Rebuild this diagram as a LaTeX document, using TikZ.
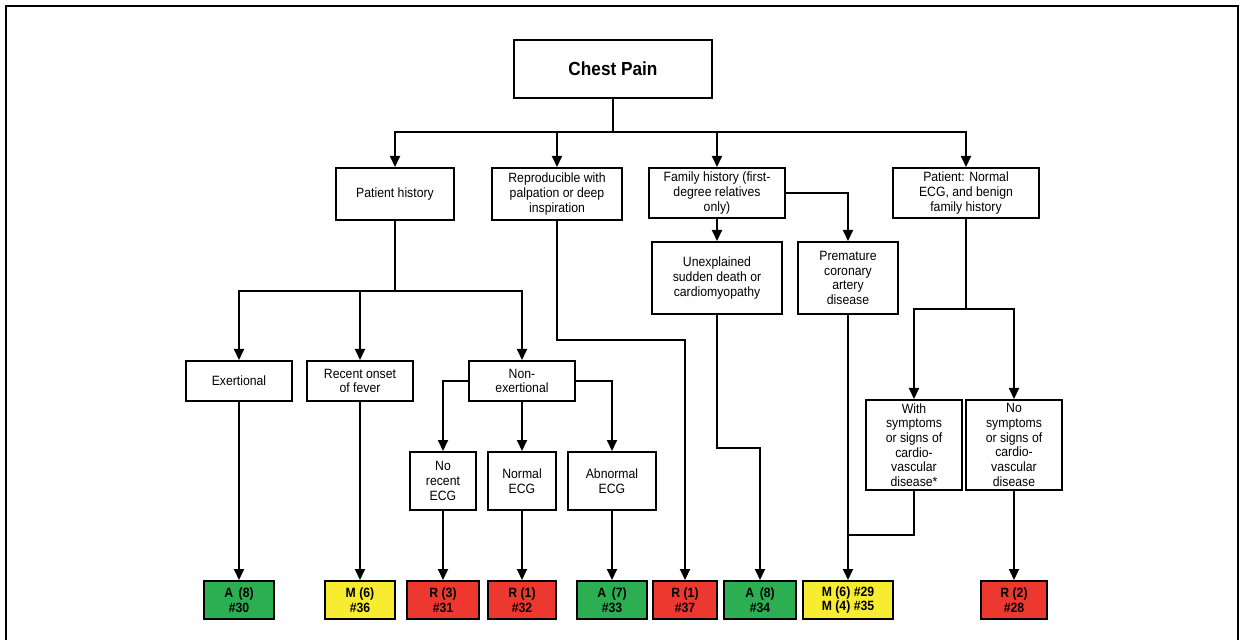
\documentclass[tikz,border=0pt]{standalone}
\usepackage{fontspec}
\setmainfont[FakeStretch=0.91]{Liberation Sans}
\usetikzlibrary{arrows.meta}
\definecolor{resgreen}{RGB}{44,174,82}
\definecolor{resyellow}{RGB}{247,236,48}
\definecolor{resred}{RGB}{236,56,46}
\begin{document}
\begin{tikzpicture}[x=1bp,y=-1bp,
box/.style={draw, line width=2bp, fill=white, inner sep=0pt, align=center, font=\fontsize{13.5}{14.7}\selectfont},
res/.style={box, font=\fontsize{13.5}{14.7}\selectfont\bfseries, minimum height=38bp},
link/.style={line width=2bp},
arr/.style={link, -{Triangle[length=11bp,width=10bp]}}]
\useasboundingbox (0,0) rectangle (1244,640);
\draw[line width=2bp] (6,640) -- (6,6) -- (1238,6) -- (1238,640);

\node (chest) at (613,69) [box, minimum width=198bp, minimum height=58bp, font=\fontsize{19}{22}\selectfont\bfseries] {Chest Pain};
\node (hist) at (395,194) [box, minimum width=118bp, minimum height=52bp] {Patient history};
\node (repro) at (557,194) [box, minimum width=130bp, minimum height=52bp] {Reproducible with\\palpation or deep\\inspiration};
\node (family) at (717,193) [box, minimum width=136bp, minimum height=50bp] {Family history (first-\\degree relatives\\only)};
\node (normal) at (966,193) [box, minimum width=146bp, minimum height=50bp] {Patient: Normal\\ECG, and benign\\family history};
\node (unexpl) at (717,278) [box, minimum width=130bp, minimum height=72bp] {Unexplained\\sudden death or\\cardiomyopathy};
\node (prem) at (848,278) [box, minimum width=100bp, minimum height=72bp] {Premature\\coronary\\artery\\disease};
\node (exer) at (239,381) [box, minimum width=106bp, minimum height=40bp] {Exertional};
\node (fever) at (360,381) [box, minimum width=106bp, minimum height=40bp] {Recent onset\\of fever};
\node (nonex) at (522,381) [box, minimum width=106bp, minimum height=40bp] {Non-\\exertional};
\node (norec) at (443,481) [box, minimum width=66bp, minimum height=58bp] {No\\recent\\ECG};
\node (normecg) at (522,481) [box, minimum width=68bp, minimum height=58bp] {Normal\\ECG};
\node (abnecg) at (612,481) [box, minimum width=88bp, minimum height=58bp] {Abnormal\\ECG};
\node (withsym) at (914,445) [box, minimum width=96bp, minimum height=90bp] {With\\symptoms\\or signs of\\cardio-\\vascular\\disease*};
\node (nosym) at (1014,445) [box, minimum width=96bp, minimum height=90bp] {No\\symptoms\\or signs of\\cardio-\\vascular\\disease};

\node (r30) at (239,600) [res, fill=resgreen, minimum width=70bp] {A\ \,(8)\\\#30};
\node (r36) at (360,600) [res, fill=resyellow, minimum width=70bp] {M (6)\\\#36};
\node (r31) at (443,600) [res, fill=resred, minimum width=72bp] {R (3)\\\#31};
\node (r32) at (522,600) [res, fill=resred, minimum width=68bp] {R (1)\\\#32};
\node (r33) at (612,600) [res, fill=resgreen, minimum width=70bp] {A\ \,(7)\\\#33};
\node (r37) at (685,600) [res, fill=resred, minimum width=64bp] {R (1)\\\#37};
\node (r34) at (760,600) [res, fill=resgreen, minimum width=72bp] {A\ \,(8)\\\#34};
\node (r29) at (848,600) [res, fill=resyellow, minimum width=90bp] {M (6) \#29\\M (4) \#35};
\node (r28) at (1014,600) [res, fill=resred, minimum width=66bp] {R (2)\\\#28};

\coordinate (top) at (613,132);
\coordinate (phist) at (395,291);
\coordinate (pnorm) at (966,309);
\coordinate (meet) at (848,535);

\draw[link] (chest) -- (top);
\foreach \t in {hist,repro,family,normal}
  \draw[arr] (top) -| (\t.north);
\draw[link] (hist) -- (phist);
\foreach \t in {exer,fever,nonex}
  \draw[arr] (phist) -| (\t.north);
\draw[arr] (nonex.west) -| (norec.north);
\draw[arr] (nonex) -- (normecg);
\draw[arr] (nonex.east) -| (abnecg.north);
\draw[arr] (repro.south) -- ++(0,119) -| (r37.north);
\draw[arr] (family) -- (unexpl);
\draw[arr] (family.east) -| (prem.north);
\draw[arr] (unexpl.south) -- ++(0,133) -| (r34.north);
\draw[arr] (prem) -- (r29);
\draw[link] (normal) -- (pnorm);
\foreach \t in {withsym,nosym}
  \draw[arr] (pnorm) -| (\t.north);
\draw[link] (withsym.south) |- (meet);
\draw[arr] (exer) -- (r30);
\draw[arr] (fever) -- (r36);
\draw[arr] (norec) -- (r31);
\draw[arr] (normecg) -- (r32);
\draw[arr] (abnecg) -- (r33);
\draw[arr] (nosym) -- (r28);
\end{tikzpicture}
\end{document}
